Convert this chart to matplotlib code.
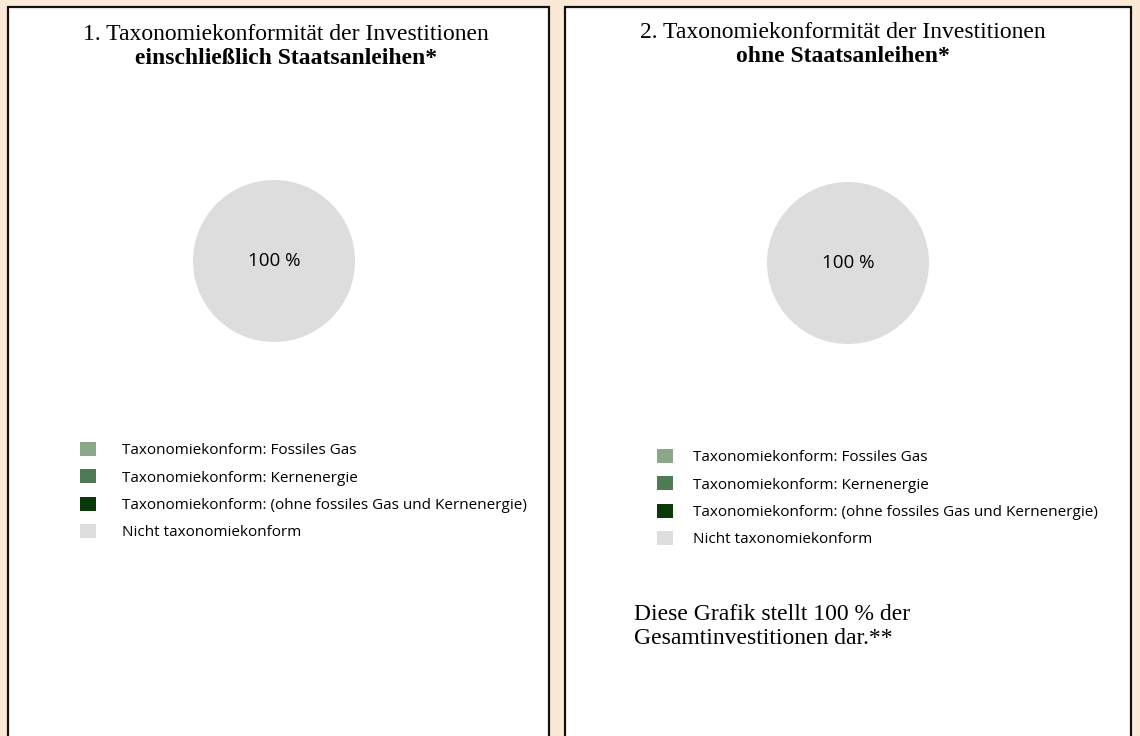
import matplotlib.pyplot as plt
from matplotlib.patches import Rectangle, Patch

# Chart data
categories = [
    'Taxonomiekonform: Fossiles Gas',
    'Taxonomiekonform: Kernenergie',
    'Taxonomiekonform: (ohne fossiles Gas und Kernenergie)',
    'Nicht taxonomiekonform',
]
colors = ['#8aa78a', '#4e7a54', '#0a3a0a', '#dddddd']
incl_values = [0, 0, 0, 100]   # including sovereign bonds
excl_values = [0, 0, 0, 100]   # excluding sovereign bonds

W, H = 1140, 736
fig = plt.figure(figsize=(W / 100, H / 100), dpi=100, facecolor='#fbe9d7')


def fx(px):
    return px / W


def fy(py):
    return 1 - py / H


# white panels with dark borders (behind the pie axes)
for x0, x1 in [(8, 549), (565, 1131)]:
    fig.patches.append(Rectangle((fx(x0), fy(745)), fx(x1 - x0), (745 - 7) / H,
                                 transform=fig.transFigure, facecolor='white',
                                 edgecolor='#111111', linewidth=1.6, zorder=-1))

serif = 'Liberation Serif'
sans = 'Open Sans'
tsize = 17

# titles
fig.text(fx(286), fy(35), '1. Taxonomiekonformität der Investitionen', ha='center', va='center',
         family=serif, fontsize=tsize)
fig.text(fx(286), fy(59), 'einschließlich Staatsanleihen*', ha='center', va='center',
         family=serif, fontsize=tsize, weight='bold')
fig.text(fx(843), fy(33), '2. Taxonomiekonformität der Investitionen', ha='center', va='center',
         family=serif, fontsize=tsize)
fig.text(fx(843), fy(57), 'ohne Staatsanleihen*', ha='center', va='center',
         family=serif, fontsize=tsize, weight='bold')


def draw_pie(cx, cy, values):
    ax = fig.add_axes([fx(cx - 100), fy(cy + 100), fx(200), 200 / H])
    ax.pie(values, colors=colors, radius=0.81, startangle=90, counterclock=False,
           autopct=lambda p: f'{p:.0f} %' if p > 0 else '', pctdistance=0,
           textprops={'family': sans, 'fontsize': 13.5, 'color': '#000000'},
           wedgeprops={'linewidth': 0})
    ax.set_xlim(-1, 1)
    ax.set_ylim(-1, 1)
    ax.set_aspect('equal')
    ax.axis('off')


draw_pie(274, 261, incl_values)
draw_pie(848, 263, excl_values)

handles = [Patch(facecolor=c, edgecolor='none') for c in colors]


def draw_legend(x, y, pad):
    fig.legend(handles, categories, loc='upper left', bbox_to_anchor=(fx(x), fy(y)),
               bbox_transform=fig.transFigure, frameon=False, borderpad=0,
               borderaxespad=0, handlelength=1.05, handleheight=1.05,
               handletextpad=pad, labelspacing=0.72,
               prop={'family': sans, 'size': 11})


draw_legend(80, 442, 1.7)
draw_legend(657, 449, 1.3)

# footnote text in right panel
fig.text(fx(634), fy(614), 'Diese Grafik stellt 100 % der', ha='left', va='center',
         family=serif, fontsize=tsize)
fig.text(fx(634), fy(638), 'Gesamtinvestitionen dar.**', ha='left', va='center',
         family=serif, fontsize=tsize)

fig.savefig('out.png', dpi=100, facecolor=fig.get_facecolor())
